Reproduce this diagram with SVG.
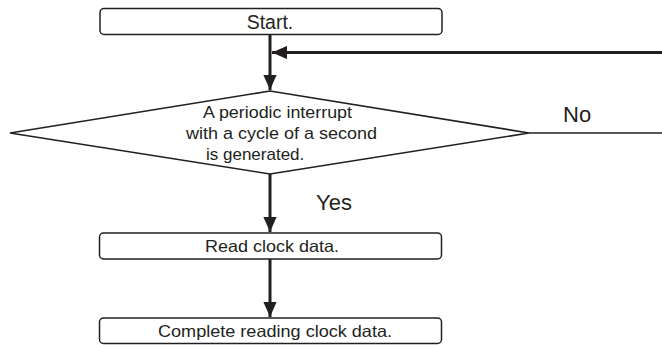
<svg xmlns="http://www.w3.org/2000/svg" width="662" height="345" viewBox="0 0 662 345">
<style>
.box{fill:#fff;stroke:#231f20;stroke-width:1.5}
.t{font-family:"Liberation Sans",Arial,sans-serif;fill:#231f20}
.flow{stroke:#231f20;stroke-width:3;fill:none}
.thin{stroke:#231f20;stroke-width:1.6;fill:none}
</style>
<defs>
<marker id="ah" markerWidth="5" markerHeight="4.4" refX="5" refY="2.2" orient="auto" markerUnits="strokeWidth">
<path d="M0,0 L5,2.2 L0,4.4 Z" fill="#231f20"/>
</marker>
</defs>
<g id="connectors">
<line class="flow" x1="270" y1="34" x2="270" y2="90" marker-end="url(#ah)"/>
<line class="flow" x1="662" y1="52.5" x2="272" y2="52.5" marker-end="url(#ah)"/>
<line class="thin" x1="529" y1="133" x2="662" y2="133"/>
<line class="flow" x1="270" y1="174" x2="270" y2="232" marker-end="url(#ah)"/>
<line class="flow" x1="270" y1="259" x2="270" y2="317" marker-end="url(#ah)"/>
<text class="t" x="563" y="122" font-size="22">No</text>
<text class="t" x="316" y="210" font-size="22">Yes</text>
</g>
<g id="start">
<rect class="box" x="100" y="8.5" width="342" height="26" rx="4"/>
<text class="t" x="270" y="29" font-size="19.5" text-anchor="middle">Start.</text>
</g>
<g id="decision">
<polygon class="thin" points="270,91 529,133 270,174 10,133" fill="#fff"/>
<text class="t" x="203" y="118" font-size="17" textLength="149" lengthAdjust="spacingAndGlyphs">A periodic interrupt</text>
<text class="t" x="186" y="139" font-size="17" textLength="191" lengthAdjust="spacingAndGlyphs">with a cycle of a second</text>
<text class="t" x="206" y="160" font-size="17">is generated.</text>
</g>
<g id="read">
<rect class="box" x="99.5" y="233" width="342" height="26" rx="4"/>
<text class="t" x="205" y="252" font-size="16.5" textLength="134" lengthAdjust="spacingAndGlyphs">Read clock data.</text>
</g>
<g id="complete">
<rect class="box" x="99.5" y="318" width="342" height="25.5" rx="4"/>
<text class="t" x="158" y="337" font-size="16.5" textLength="234" lengthAdjust="spacingAndGlyphs">Complete reading clock data.</text>
</g>
</svg>
